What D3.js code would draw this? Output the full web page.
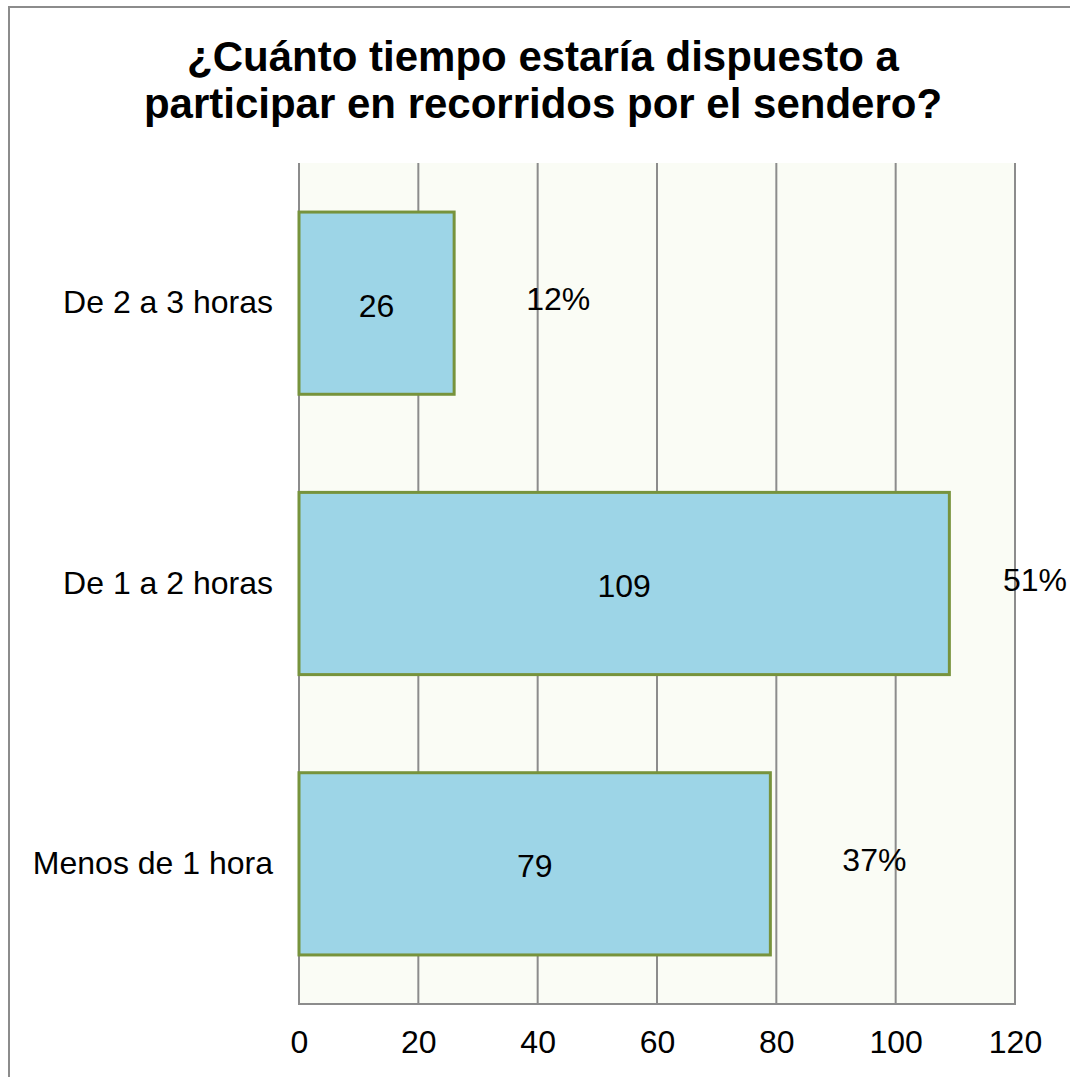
<!DOCTYPE html>
<html>
<head>
<meta charset="utf-8">
<script src="https://cdn.jsdelivr.net/npm/d3@7/dist/d3.min.js"></script>
<style>
  html, body { margin: 0; padding: 0; background: #ffffff; }
  svg { display: block; font-family: "Liberation Sans", Arial, sans-serif; }
</style>
</head>
<body>
<svg id="chart" width="1070" height="1077"></svg>
<script>
// Survey answers: how long people would join trail walks
const categories = ["De 2 a 3 horas", "De 1 a 2 horas", "Menos de 1 hora"];
const counts = [26, 109, 79];
const percents = ["12%", "51%", "37%"];
const xTicks = [0, 20, 40, 60, 80, 100, 120];
const titleLines = ["¿Cuánto tiempo estaría dispuesto a", "participar en recorridos por el sendero?"];

const svg = d3.select("#chart");

// outer chart frame (open on the right and bottom edges)
svg.append("rect")
  .attr("x", 9).attr("y", 7)
  .attr("width", 1080).attr("height", 1090)
  .attr("fill", "#ffffff")
  .attr("stroke", "#8c8c8c")
  .attr("stroke-width", 2);

const plot = { left: 299, right: 1015, top: 163, bottom: 1004 };

const x = d3.scaleLinear().domain([0, 120]).range([plot.left, plot.right]);
const y = d3.scaleBand().domain(categories)
  .range([plot.top, plot.bottom])
  .paddingInner(0.35).paddingOuter(0.175);

// plot background
svg.append("rect")
  .attr("x", plot.left).attr("y", plot.top)
  .attr("width", plot.right - plot.left).attr("height", plot.bottom - plot.top)
  .attr("fill", "#fafcf5");

// vertical gridlines
svg.append("g").selectAll("line").data(xTicks).join("line")
  .attr("x1", d => x(d)).attr("x2", d => x(d))
  .attr("y1", plot.top).attr("y2", plot.bottom)
  .attr("stroke", "#8c8c8c").attr("stroke-width", 2);

// bottom axis line
svg.append("line")
  .attr("x1", plot.left - 1).attr("x2", plot.right + 1)
  .attr("y1", plot.bottom).attr("y2", plot.bottom)
  .attr("stroke", "#8c8c8c").attr("stroke-width", 2);

// bars
svg.append("g").selectAll("rect").data(categories).join("rect")
  .attr("x", x(0))
  .attr("y", d => y(d))
  .attr("width", (d, i) => x(counts[i]) - x(0))
  .attr("height", y.bandwidth())
  .attr("fill", "#9dd5e7")
  .attr("stroke", "#77933c")
  .attr("stroke-width", 3);

// count labels inside bars
svg.append("g").selectAll("text").data(categories).join("text")
  .attr("x", (d, i) => (x(0) + x(counts[i])) / 2)
  .attr("y", d => y(d) + y.bandwidth() / 2)
  .attr("dy", "0.42em")
  .attr("text-anchor", "middle")
  .attr("font-size", 32)
  .attr("fill", "#000")
  .text((d, i) => counts[i]);

// share labels to the right of bars, kept inside the frame
svg.append("g").selectAll("text").data(categories).join("text")
  .attr("x", (d, i) => Math.min(x(counts[i]) + 72, plot.right - 12))
  .attr("y", d => y(d) + y.bandwidth() / 2 - 4)
  .attr("dy", "0.35em")
  .attr("text-anchor", "start")
  .attr("font-size", 32)
  .attr("fill", "#000")
  .text((d, i) => percents[i]);

// category axis
const yAxis = d3.axisLeft(y).tickSize(0).tickPadding(26);
const gy = svg.append("g").attr("transform", `translate(${plot.left},0)`).call(yAxis);
gy.select(".domain").remove();
gy.selectAll("text").attr("font-size", 32).attr("fill", "#000")
  .attr("font-family", "Liberation Sans, Arial, sans-serif");

// value axis
const xAxis = d3.axisBottom(x).tickValues(xTicks).tickSize(0).tickPadding(26);
const gx = svg.append("g").attr("transform", `translate(0,${plot.bottom})`).call(xAxis);
gx.select(".domain").remove();
gx.selectAll("text").attr("font-size", 32).attr("fill", "#000")
  .attr("font-family", "Liberation Sans, Arial, sans-serif");

// title
svg.append("text")
  .attr("x", 543).attr("y", 71)
  .attr("text-anchor", "middle")
  .attr("font-size", 42).attr("font-weight", "bold")
  .selectAll("tspan").data(titleLines).join("tspan")
  .attr("x", 543)
  .attr("dy", (d, i) => i === 0 ? 0 : 47)
  .text(d => d);
</script>
</body>
</html>
